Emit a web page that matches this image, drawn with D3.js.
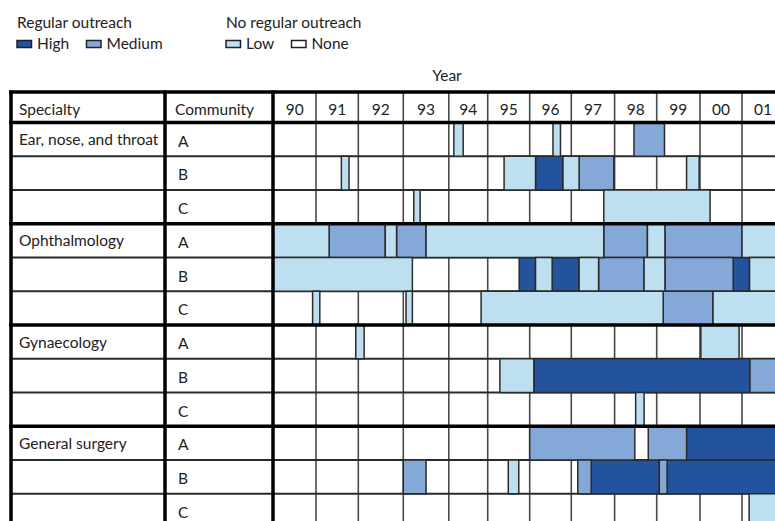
<!DOCTYPE html>
<html>
<head>
<meta charset="utf-8">
<script src="https://cdn.jsdelivr.net/npm/d3@7"></script>
<style>
  html, body { margin: 0; padding: 0; background: #fff; }
  svg { display: block; font-family: Lato, "Open Sans", sans-serif; }
</style>
</head>
<body>
<svg id="chart" width="775" height="521"></svg>
<script>
// ---- data ----
const specialties = ["Ear, nose, and throat", "Ophthalmology", "Gynaecology", "General surgery"];
const communities = ["A", "B", "C"];
const yearTicks = ["90", "91", "92", "93", "94", "95", "96", "97", "98", "99", "00", "01"];
const yearStarts = [1990, 1991, 1992, 1993, 1994, 1995, 1996, 1997, 1998, 1999, 2000, 2001, 2002];

// outreach spans: [row, start year, end year]; rows run specialty by community
const highSpans = [
  [1, 1996.14, 1996.80],
  [4, 1995.75, 1996.14], [4, 1996.54, 1997.18], [4, 2000.79, 2001.18],
  [7, 1996.10, 2001.19],
  [9, 1999.69, 2002.2],
  [10, 1997.46, 1999.06], [10, 1999.24, 2002.2]
];
const mediumSpans = [
  [0, 1998.46, 1999.18],
  [1, 1997.18, 1997.98],
  [3, 1991.31, 1992.60], [3, 1992.85, 1993.50], [3, 1997.75, 1998.78], [3, 1999.19, 2001.00],
  [4, 1997.63, 1998.70], [4, 1999.19, 2000.79],
  [5, 1999.15, 2000.31],
  [7, 2001.19, 2002.2],
  [9, 1996.00, 1998.48], [9, 1998.80, 1999.69],
  [10, 1993.00, 1993.50], [10, 1997.15, 1997.46], [10, 1999.06, 1999.24]
];
const lowSpans = [
  [0, 1994.13, 1994.37], [0, 1996.56, 1996.74],
  [1, 1991.60, 1991.78], [1, 1995.39, 1996.14], [1, 1996.80, 1997.18], [1, 1999.69, 1999.98],
  [2, 1993.23, 1993.37], [2, 1997.75, 2000.24],
  [3, 1990.00, 1991.31], [3, 1992.60, 1992.85], [3, 1993.50, 1997.75], [3, 1998.78, 1999.19], [3, 2001.00, 2002.2],
  [4, 1990.00, 1993.20], [4, 1996.14, 1996.54], [4, 1997.18, 1997.63], [4, 1998.70, 1999.19], [4, 2001.18, 2002.2],
  [5, 1990.92, 1991.09], [5, 1993.06, 1993.20], [5, 1994.83, 1999.15], [5, 2000.31, 2002.2],
  [6, 1991.94, 1992.13], [6, 2000.02, 2000.93],
  [7, 1995.29, 1996.10],
  [8, 1998.50, 1998.70],
  [10, 1995.49, 1995.74],
  [11, 2001.17, 2002.2]
];

const levels = [
  { key: "High", spans: highSpans, color: "#23539c" },
  { key: "Medium", spans: mediumSpans, color: "#84a8d8" },
  { key: "Low", spans: lowSpans, color: "#bddff0" }
];

// ---- layout ----
const svg = d3.select("#chart");
const fontSize = 15.5;
const tableLeft = 11, specRight = 165, commRight = 273;
const tableTop = 92, headerBottom = 122.5, rowH = 33.75;
const tableRight = 800;
// hand-ruled year columns are not all equal width
const colEdges = [273.3, 316, 358.3, 403.3, 448.8, 487.7, 529.7, 571.3, 614.6, 656.7, 700, 742, 784];
const x = d3.scaleLinear().domain(yearStarts).range(colEdges);

const rowKeys = d3.range(specialties.length * communities.length);
const y = d3.scaleBand().domain(rowKeys).range([headerBottom, headerBottom + rowKeys.length * rowH]).padding(0);
const tableBottom = headerBottom + rowKeys.length * rowH;

// ---- legend ----
const legendGroups = [
  { title: "Regular outreach", x: 17, items: [["High", "#23539c", 0], ["Medium", "#84a8d8", 69.5]] },
  { title: "No regular outreach", x: 226, items: [["Low", "#bddff0", 0], ["None", "#ffffff", 65.5]] }
];
const lg = svg.append("g").attr("class", "legend");
legendGroups.forEach(g => {
  lg.append("text").attr("x", g.x).attr("y", 28).attr("font-size", fontSize).attr("fill", "#222").text(g.title);
  g.items.forEach(([label, color, dx]) => {
    lg.append("rect").attr("x", g.x + dx).attr("y", 40.5).attr("width", 14.5).attr("height", 7)
      .attr("fill", color).attr("stroke", "#222").attr("stroke-width", 1.5);
    lg.append("text").attr("x", g.x + dx + 20).attr("y", 49).attr("font-size", fontSize).attr("fill", "#222").text(label);
  });
});

svg.append("text").attr("x", 447).attr("y", 81).attr("text-anchor", "middle")
  .attr("font-size", fontSize).attr("fill", "#222").text("Year");

// ---- grid ----
const grid = svg.append("g").attr("class", "grid");
// vertical year lines
grid.selectAll("line.v").data(yearStarts.slice(1)).join("line")
  .attr("x1", d => x(d)).attr("x2", d => x(d))
  .attr("y1", tableTop).attr("y2", tableBottom)
  .attr("stroke", "#4a4a4a").attr("stroke-width", 1.6);
// thin row lines
grid.selectAll("line.h").data(rowKeys.filter(r => r % 3 !== 0)).join("line")
  .attr("x1", tableLeft).attr("x2", tableRight)
  .attr("y1", d => y(d)).attr("y2", d => y(d))
  .attr("stroke", "#2a2a2a").attr("stroke-width", 2);

// ---- outreach spans ----
const spans = svg.append("g").attr("class", "spans");
levels.forEach(lv => {
  spans.selectAll(null).data(lv.spans).join("rect")
    .attr("x", d => x(d[1]))
    .attr("width", d => x(d[2]) - x(d[1]))
    .attr("y", d => y(d[0]))
    .attr("height", y.bandwidth())
    .attr("fill", lv.color)
    .attr("stroke", "#2b2b2b").attr("stroke-width", 1.5);
});

// ---- heavy rules ----
const heavy = svg.append("g").attr("class", "rules");
const sectionTops = [tableTop, headerBottom].concat(rowKeys.filter(r => r % 3 === 0 && r > 0).map(r => y(r)));
heavy.selectAll("line.h").data(sectionTops).join("line")
  .attr("x1", tableLeft - 2).attr("x2", tableRight)
  .attr("y1", d => d).attr("y2", d => d)
  .attr("stroke", "#000").attr("stroke-width", 3.5);
heavy.selectAll("line.v").data([tableLeft, specRight, commRight]).join("line")
  .attr("x1", d => d).attr("x2", d => d)
  .attr("y1", tableTop - 1.5).attr("y2", tableBottom)
  .attr("stroke", "#000").attr("stroke-width", 3.5);

// ---- header and row labels ----
const labels = svg.append("g").attr("font-size", fontSize).attr("fill", "#222");
labels.append("text").attr("x", 19).attr("y", 114.5).text("Specialty");
labels.append("text").attr("x", 175).attr("y", 114.5).text("Community");
labels.selectAll("text.yr").data(yearTicks).join("text")
  .attr("class", "yr")
  .attr("x", (d, i) => (x(yearStarts[i]) + x(yearStarts[i + 1])) / 2)
  .attr("y", 114.5).attr("text-anchor", "middle").text(d => d);

labels.selectAll("text.spec").data(specialties).join("text")
  .attr("class", "spec")
  .attr("x", 19).attr("y", (d, i) => y(i * 3) + 22.5).text(d => d);
labels.selectAll("text.comm").data(rowKeys).join("text")
  .attr("class", "comm")
  .attr("x", 178).attr("y", d => y(d) + 24).text(d => communities[d % 3]);
</script>
</body>
</html>
